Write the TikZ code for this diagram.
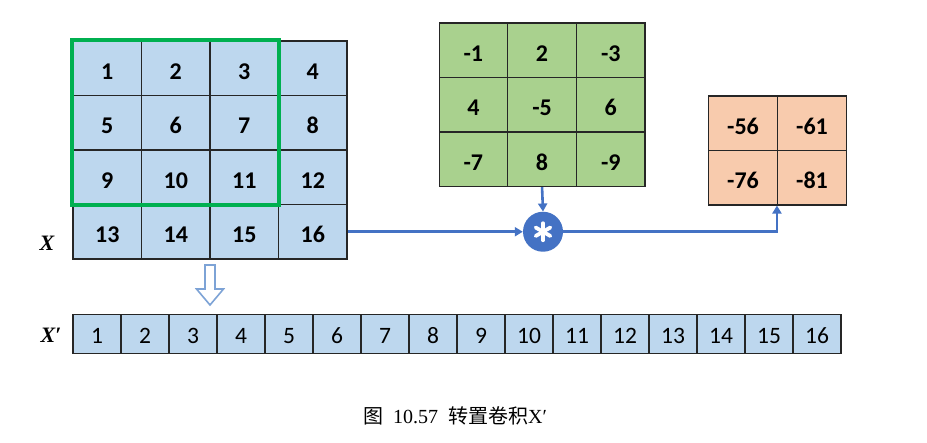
\documentclass[tikz,border=0pt]{standalone}
\usepackage{fontspec}
\setmainfont{Liberation Serif}
\newfontfamily\calib{Carlito}
\newfontfamily\cjk{Noto Sans CJK SC}
\usetikzlibrary{arrows.meta}
\definecolor{cellblue}{HTML}{BDD7EE}
\definecolor{kgreen}{HTML}{A9D18E}
\definecolor{korange}{HTML}{F8CBAD}
\definecolor{framegreen}{HTML}{00B050}
\definecolor{lineblue}{HTML}{4472C4}
\definecolor{hollowblue}{HTML}{7DA3D6}
\tikzset{
  cellbase/.style={rectangle, draw=black!85, line width=1.1pt, inner sep=0pt,
    minimum width=68.5pt, minimum height=54.5pt, text height=22pt, text depth=0pt},
  xcell/.style={cellbase, fill=cellblue, font=\calib\bfseries\fontsize{24}{24}\selectfont},
  kcell/.style={cellbase, fill=kgreen, font=\calib\bfseries\fontsize{24}{24}\selectfont},
  ocell/.style={cellbase, fill=korange, minimum width=69pt, font=\calib\bfseries\fontsize{24}{24}\selectfont},
  scell/.style={rectangle, draw=black!85, line width=1.1pt, inner sep=0pt, fill=cellblue,
    minimum width=48pt, minimum height=39pt, text height=19pt, text depth=0pt,
    font=\calib\fontsize{23.5}{23.5}\selectfont},
  conn/.style={draw=lineblue, line width=2.6pt, -{Triangle[length=8pt,width=9pt]}},
  lbl/.style={font=\bfseries\itshape\fontsize{22}{22}\selectfont, inner sep=0pt},
}
\begin{document}
\begin{tikzpicture}[x=1pt,y=-1pt]
\useasboundingbox[fill=white] (0,0) rectangle (927,443);
% input grid X
\foreach \r in {0,...,3}{
  \foreach \c in {0,...,3}{
    \pgfmathtruncatemacro\n{4*\r+\c+1}
    \node[xcell] (x\n) at ({73+68.5*(\c+0.5)},{41+54.5*(\r+0.5)}) {\n};
  }
}
\draw[framegreen, line width=4pt] (x1.north west) rectangle (x11.south east);
\node[lbl] (xlab) at (47,243) {X};
% kernel
\foreach \v [count=\i from 0] in {-1,2,-3,4,-5,6,-7,8,-9}{
  \pgfmathtruncatemacro\c{mod(\i,3)}
  \pgfmathtruncatemacro\r{div(\i,3)}
  \pgfmathtruncatemacro\n{\i+1}
  \node[kcell] (k\n) at ({439+68.7*(\c+0.5)},{23+54.5*(\r+0.5)}) {\v};
}
% output
\foreach \v [count=\i from 0] in {-56,-61,-76,-81}{
  \pgfmathtruncatemacro\c{mod(\i,2)}
  \pgfmathtruncatemacro\r{div(\i,2)}
  \pgfmathtruncatemacro\n{\i+1}
  \node[ocell] (o\n) at ({708.5+69*(\c+0.5)},{96+54.5*(\r+0.5)}) {\v};
}
% convolution operator
\node[circle, fill=lineblue, minimum size=40pt, inner sep=0pt] (conv) at (543,231.75) {};
\foreach \a in {90,30,150}{
  \draw[white, line width=3.8pt, line cap=round]
    ([shift={(\a:8.5pt)}]conv.center) -- ([shift={(\a+180:8.5pt)}]conv.center);
}
\draw[conn] (x16.east) -- (conv.west);
\draw[conn] (k8.south) -- (conv.north);
\draw[conn] (conv.east) -| (o4.south west);
% hollow arrow
\draw[hollowblue, line width=1.6pt, fill=white, line join=miter]
  (205,265) -- (215,265) -- (215,289) -- (223.5,289) -- (210,305) -- (196.5,289) -- (205,289) -- cycle;
% flattened strip X'
\foreach \n in {1,...,16}{
  \node[scell] (s\n) at ({73+48*(\n-0.5)},334) {\n};
}
\node[lbl] (xplab) at (51,335) {X′};
% caption
\node[font=\fontsize{20}{20}\selectfont, inner sep=0pt] (cap) at (455,416)
  {{\cjk 图}\ \ 10.57\ \ {\cjk 转置卷积}X′};
\end{tikzpicture}
\end{document}
